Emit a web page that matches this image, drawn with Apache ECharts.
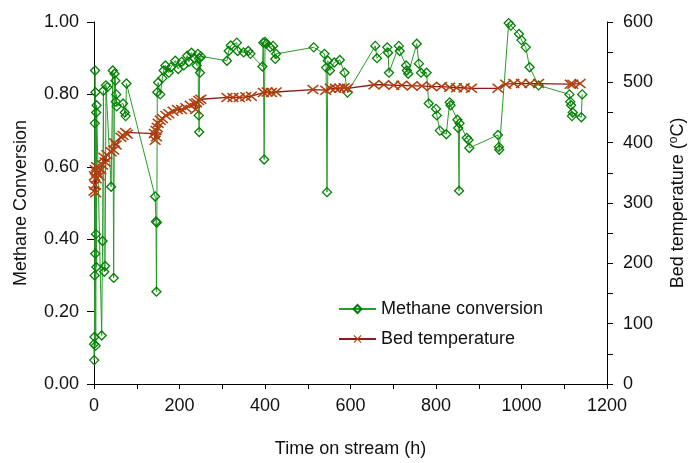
<!DOCTYPE html>
<html>
<head>
<meta charset="utf-8">
<script src="https://cdn.jsdelivr.net/npm/echarts@6/dist/echarts.min.js"></script>
<style>
  html, body { margin: 0; padding: 0; background: #fff; }
  #main { width: 695px; height: 463px; }
</style>
</head>
<body>
<div id="main"></div>
<script>
// methane conversion readings (time on stream in h, conversion)
var convTime = [0, 0.5, 1, 1.5, 2, 2.5, 3, 3.5, 4, 4.5, 5, 5.5, 6,
    18, 20, 22, 24, 26, 28, 31,
    40, 44, 46, 48, 50, 51, 52, 53,
    68, 72, 74, 76,
    143, 145, 146, 147, 148, 150,
    155, 160, 163, 167, 175, 180, 190, 197, 205, 210, 218, 222, 228, 235, 240, 243, 245, 246, 247, 248, 250,
    311, 315, 320, 334, 336, 350, 361, 366,
    394, 396, 398, 400, 403, 412, 419, 424, 426,
    514, 539, 543, 545, 547, 552, 562, 575, 586, 593,
    658, 662, 686, 688, 690, 713, 715, 730, 732, 735, 755, 760, 765, 778, 783,
    800, 802, 809, 824, 832, 834, 850, 852, 854, 855, 872, 876, 878,
    945, 947, 948, 970, 975, 994, 1000, 1010, 1019, 1040,
    1112, 1114, 1116, 1118, 1120, 1140, 1142];
var convValue = [0.11, 0.066, 0.13, 0.30, 0.72, 0.866, 0.36, 0.806, 0.106, 0.414, 0.75, 0.323, 0.77,
    0.134, 0.395, 0.81, 0.31, 0.326, 0.825, 0.82,
    0.545, 0.866, 0.293, 0.857, 0.838, 0.78, 0.80, 0.767,
    0.775, 0.75, 0.74, 0.83,
    0.518, 0.449, 0.255, 0.446, 0.806, 0.833,
    0.80, 0.845, 0.866, 0.88, 0.86, 0.875, 0.893, 0.87, 0.89, 0.88, 0.907, 0.89, 0.915, 0.90, 0.88, 0.912, 0.742, 0.696, 0.90, 0.86, 0.905,
    0.893, 0.92, 0.935, 0.943, 0.92, 0.916, 0.92, 0.912,
    0.877, 0.943, 0.62, 0.945, 0.94, 0.93, 0.934, 0.898, 0.912,
    0.93, 0.912, 0.874, 0.53, 0.893, 0.866, 0.888, 0.895, 0.86, 0.805,
    0.934, 0.90, 0.93, 0.915, 0.86, 0.934, 0.92, 0.88, 0.866, 0.857, 0.94, 0.885, 0.86, 0.86, 0.775,
    0.76, 0.742, 0.70, 0.69, 0.778, 0.77, 0.73, 0.707, 0.534, 0.72, 0.68, 0.674, 0.652,
    0.688, 0.655, 0.647, 0.997, 0.99, 0.967, 0.95, 0.93, 0.875, 0.825,
    0.80, 0.78, 0.77, 0.74, 0.75, 0.737, 0.80];

// bed temperature readings (time on stream in h, degC)
var tempTime = [0, 1, 2, 3, 4, 5, 6, 7,
    12, 16, 20, 23, 26, 30,
    40, 46, 48, 52,
    63, 68, 74, 78,
    141, 143, 145, 146, 148, 150, 155, 160, 168, 175, 185, 195, 205, 215, 225, 235, 238, 240, 245, 250,
    311, 325, 340, 355, 368,
    396, 405, 415, 426,
    512, 542, 553, 565, 575, 585, 593,
    655, 678, 701, 720, 744, 767, 790, 813, 832, 848, 866, 883,
    945, 963, 982, 1000, 1020, 1040,
    1114, 1120, 1137];
var tempValue = [320, 345, 330, 355, 317, 340, 360, 350,
    345, 355, 363, 376, 368, 380,
    385, 388, 400, 396,
    409, 412, 417, 414,
    415, 404, 420, 410, 425, 432, 437, 440, 445, 448, 452, 455, 455, 458, 462, 465, 455, 466, 470, 472,
    475, 475, 475, 476, 477,
    483, 484, 483, 484,
    488, 487, 490, 490, 490, 491, 490,
    496, 496, 495, 495, 494, 494, 493, 493, 492, 491, 491, 490,
    490, 497, 498, 498, 498, 498,
    497, 497, 498];

var xTicks = { min: 0, max: 1200, step: 100, labelStep: 200 };

function pairs(xs, ys) {
    var out = [];
    for (var i = 0; i < xs.length; i++) {
        out.push([xs[i], ys[i]]);
    }
    return out;
}

var FONT = '"Liberation Sans", Arial, sans-serif';
var axisLine = { show: true, lineStyle: { color: '#000', width: 1 } };
var labelStyle = { color: '#111', fontSize: 18, fontFamily: FONT };
var nameStyle = { color: '#111', fontSize: 18, fontFamily: FONT };

// cross marker drawn as filled outline
var crossPath = 'path://M0,1L1,0L5,4L9,0L10,1L6,5L10,9L9,10L5,6L1,10L0,9L4,5Z';

var chart = echarts.init(document.getElementById('main'), null, { renderer: 'canvas' });
chart.setOption({
    animation: false,
    backgroundColor: '#fff',
    grid: { left: 94, right: 83, top: 22, bottom: 77, containLabel: false },
    legend: {
        orient: 'vertical',
        left: 333,
        top: 295,
        itemWidth: 37,
        itemHeight: 10,
        itemGap: 12,
        textStyle: { color: '#111', fontSize: 18, fontFamily: FONT, lineHeight: 18 },
        data: ['Methane conversion', 'Bed temperature']
    },
    xAxis: {
        type: 'value',
        min: xTicks.min,
        max: xTicks.max,
        interval: xTicks.step,
        name: 'Time on stream (h)',
        nameLocation: 'middle',
        nameGap: 56,
        nameTextStyle: nameStyle,
        axisLine: axisLine,
        axisTick: { show: true, length: 5, lineStyle: { color: '#000' } },
        axisLabel: Object.assign({
            margin: 13,
            formatter: function (v) { return v % xTicks.labelStep === 0 ? String(v) : ''; }
        }, labelStyle),
        splitLine: { show: false }
    },
    yAxis: [{
        type: 'value',
        position: 'left',
        min: 0,
        max: 1,
        interval: 0.2,
        name: 'Methane Conversion',
        nameLocation: 'middle',
        nameRotate: 90,
        nameGap: 64,
        nameTextStyle: nameStyle,
        axisLine: axisLine,
        axisTick: { show: true, length: 7, lineStyle: { color: '#000' } },
        axisLabel: Object.assign({
            margin: 15,
            formatter: function (v) { return v.toFixed(2); }
        }, labelStyle),
        splitLine: { show: false }
    }, {
        type: 'value',
        position: 'right',
        min: 0,
        max: 600,
        interval: 50,
        name: 'Bed temperature ({sup|o}C)',
        nameLocation: 'middle',
        nameRotate: 90,
        nameGap: 61,
        nameTextStyle: Object.assign({
            rich: { sup: { fontSize: 12, fontFamily: FONT, color: '#111', verticalAlign: 'top', padding: [0, 0, 8, 0] } }
        }, nameStyle),
        axisLine: axisLine,
        axisTick: { show: true, length: 6, lineStyle: { color: '#000' } },
        axisLabel: Object.assign({
            margin: 16,
            formatter: function (v) { return v % 100 === 0 ? String(v) : ''; }
        }, labelStyle),
        splitLine: { show: false }
    }],
    series: [{
        name: 'Methane conversion',
        type: 'line',
        yAxisIndex: 0,
        data: pairs(convTime, convValue),
        symbol: 'diamond',
        symbolSize: 9,
        showAllSymbol: true,
        lineStyle: { color: '#2a9a2a', width: 1 },
        itemStyle: { color: 'rgba(255,255,255,0)', borderColor: '#008000', borderWidth: 1.3 }
    }, {
        name: 'Bed temperature',
        type: 'line',
        yAxisIndex: 1,
        data: pairs(tempTime, tempValue),
        symbol: crossPath,
        symbolSize: [12, 10],
        showAllSymbol: true,
        lineStyle: { color: '#8e1b1b', width: 1.3 },
        itemStyle: { color: '#b0400f' }
    }]
});
</script>
</body>
</html>
